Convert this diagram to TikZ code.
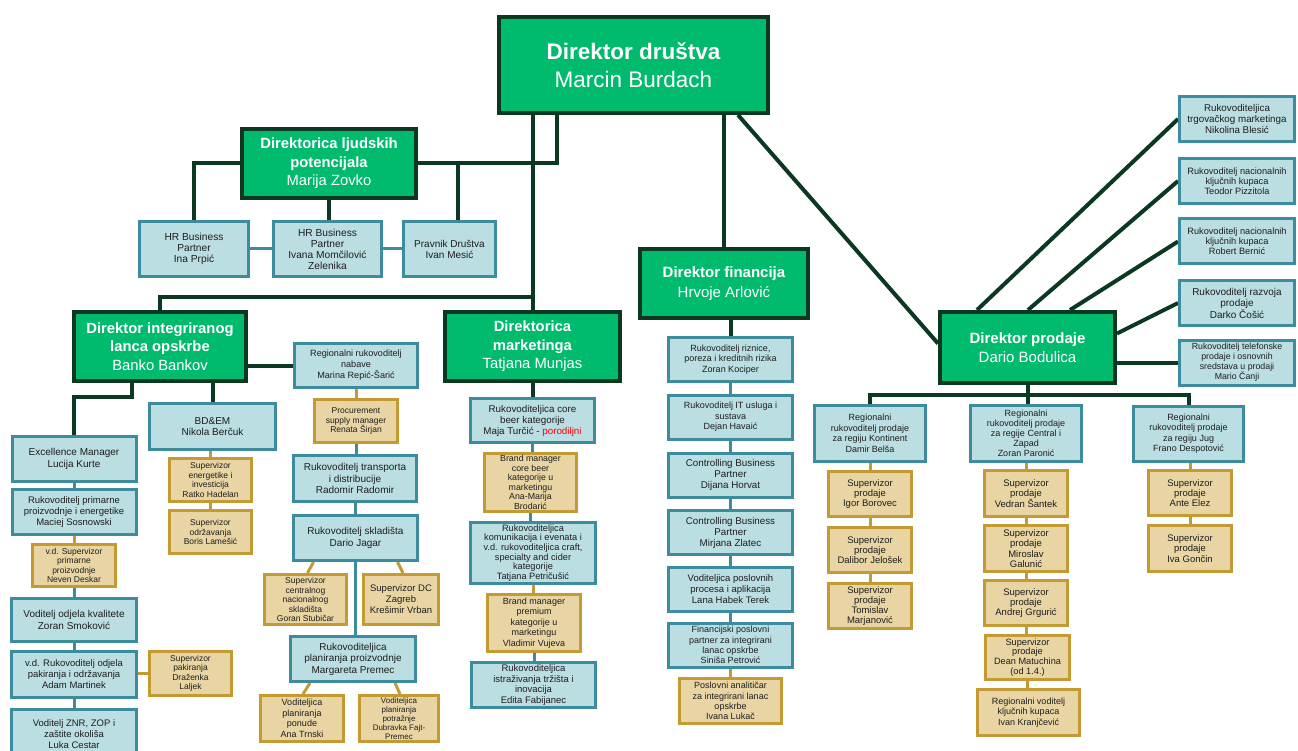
\documentclass[tikz,border=0pt]{standalone}
\usepackage{fontspec}
\setmainfont{Liberation Sans}
\usetikzlibrary{backgrounds}
\definecolor{grn}{RGB}{0,186,110}
\definecolor{dkgrn}{RGB}{12,56,34}
\definecolor{lblue}{RGB}{186,222,226}
\definecolor{tealc}{RGB}{60,140,158}
\definecolor{tanf}{RGB}{232,213,163}
\definecolor{gold}{RGB}{196,155,50}
\definecolor{txt}{RGB}{30,30,30}

\begin{document}
\begin{tikzpicture}[x=1pt, y=-1pt,
  wh/.style 2 args={minimum width=#1, minimum height=#2},
  gbox/.style={draw=dkgrn, line width=4, fill=grn, text=white, align=center, inner sep=1},
  bbox/.style={draw=tealc, line width=3, fill=lblue, text=txt, align=center, inner sep=1, font=\fontsize{9.5}{11}\selectfont},
  tbox/.style={draw=gold, line width=3, fill=tanf, text=txt, align=center, inner sep=1, font=\fontsize{8.5}{9.5}\selectfont},
  sbox/.style={tbox, font=\fontsize{9.5}{10.3}\selectfont},
  main/.style={draw=dkgrn, line width=4},
  blink/.style={draw=tealc, line width=3},
  tlink/.style={draw=gold, line width=3}]
\useasboundingbox (0,0) rectangle (1298,751);

% top level
\node[gbox, wh={269}{96}, font=\fontsize{22.5}{28}\selectfont] (dd) at (633.5,65) {\textbf{Direktor društva}\\Marcin Burdach};
\node[gbox, wh={174}{69}, font=\fontsize{14.8}{18.5}\selectfont] (hr) at (329,163.5) {\textbf{Direktorica ljudskih}\\\textbf{potencijala}\\Marija Zovko};
\node[gbox, wh={172}{69}, font=\fontsize{14.8}{18.5}\selectfont] (lo) at (160,346.5) {\textbf{Direktor integriranog}\\\textbf{lanca opskrbe}\\Banko Bankov};
\node[gbox, wh={175}{69}, font=\fontsize{14.8}{18.5}\selectfont] (mk) at (532.5,346.5) {\textbf{Direktorica}\\\textbf{marketinga}\\Tatjana Munjas};
\node[gbox, wh={168}{69}, font=\fontsize{15}{19.5}\selectfont] (fi) at (724,283.5) {\textbf{Direktor financija}\\Hrvoje Arlović};
\node[gbox, wh={175}{71}, font=\fontsize{15}{19.5}\selectfont] (pr) at (1027.5,347.5) {\textbf{Direktor prodaje}\\Dario Bodulica};

% ljudski potencijali
\node[bbox, wh={109}{55}, font=\fontsize{10.2}{11}\selectfont] (hr1) at (194,249) {HR Business\\Partner\\Ina Prpić};
\node[bbox, wh={108}{55}, font=\fontsize{10.2}{11}\selectfont] (hr2) at (327.5,249) {HR Business\\Partner\\Ivana Momčilović\\Zelenika};
\node[bbox, wh={92}{55}, font=\fontsize{10}{11}\selectfont] (hr3) at (449.5,249) {Pravnik Društva\\Ivan Mesić};

% prodaja
\node[bbox, wh={115}{45}, font=\fontsize{9.8}{11}\selectfont] (pr1) at (1237,119) {Rukovoditeljica\\trgovačkog marketinga\\Nikolina Blesić};
\node[bbox, wh={115}{45}, font=\fontsize{9.2}{10.2}\selectfont] (pr2) at (1237,181) {Rukovoditelj nacionalnih\\ključnih kupaca\\Teodor Pizzitola};
\node[bbox, wh={115}{45}, font=\fontsize{9.2}{10.2}\selectfont] (pr3) at (1237,241.5) {Rukovoditelj nacionalnih\\ključnih kupaca\\Robert Bernić};
\node[bbox, wh={115}{45}, font=\fontsize{10}{11.5}\selectfont] (pr4) at (1237,303) {Rukovoditelj razvoja\\prodaje\\Darko Čošić};
\node[bbox, wh={115}{45}, font=\fontsize{8.8}{10}\selectfont] (pr5) at (1237,362.5) {Rukovoditelj telefonske\\prodaje i osnovnih\\sredstava u prodaji\\Mario Čanji};
\node[bbox, wh={111}{56}, font=\fontsize{9}{10.5}\selectfont] (rk) at (870,433.5) {Regionalni\\rukovoditelj prodaje\\za regiju Kontinent\\Damir Belša};
\node[bbox, wh={111}{56}, font=\fontsize{9}{10}\selectfont] (rc) at (1026,433.5) {Regionalni\\rukovoditelj prodaje\\za regije Central i\\Zapad\\Zoran Paronić};
\node[bbox, wh={110}{55}, font=\fontsize{9}{10.5}\selectfont] (rj) at (1188.5,433.5) {Regionalni\\rukovoditelj prodaje\\za regiju Jug\\Frano Despotović};
\node[sbox, wh={83}{45}] (k1) at (870,494) {Supervizor\\prodaje\\Igor Borovec};
\node[sbox, wh={83}{45}] (k2) at (870,550) {Supervizor\\prodaje\\Dalibor Jelošek};
\node[sbox, wh={83}{45}] (k3) at (870,606) {Supervizor\\prodaje\\Tomislav\\Marjanović};
\node[sbox, wh={83}{46}] (c1) at (1026,493.5) {Supervizor\\prodaje\\Vedran Šantek};
\node[sbox, wh={83}{46}] (c2) at (1026,548.5) {Supervizor\\prodaje\\Miroslav\\Galunić};
\node[sbox, wh={83}{45}] (c3) at (1026,603) {Supervizor\\prodaje\\Andrej Grgurić};
\node[sbox, wh={84}{44}, font=\fontsize{9.2}{9.8}\selectfont] (c4) at (1027.5,657.5) {Supervizor\\prodaje\\Dean Matuchina\\(od 1.4.)};
\node[tbox, wh={102}{46}, font=\fontsize{9}{10.5}\selectfont] (c5) at (1028.5,712.5) {Regionalni voditelj\\ključnih kupaca\\Ivan Kranjčević};
\node[sbox, wh={83}{45}] (j1) at (1190,493) {Supervizor\\prodaje\\Ante Elez};
\node[sbox, wh={83}{46}] (j2) at (1190,548.5) {Supervizor\\prodaje\\Iva Gončin};

% financije
\node[bbox, wh={124}{44}, font=\fontsize{9}{10.5}\selectfont] (f1) at (730.5,359.5) {Rukovoditelj riznice,\\poreza i kreditnih rizika\\Zoran Kociper};
\node[bbox, wh={124}{44}, font=\fontsize{9}{10.5}\selectfont] (f2) at (730.5,417) {Rukovoditelj IT usluga i\\sustava\\Dejan Havaić};
\node[bbox, wh={124}{44}, font=\fontsize{9.8}{11}\selectfont] (f3) at (730.5,475) {Controlling Business\\Partner\\Dijana Horvat};
\node[bbox, wh={124}{44}, font=\fontsize{9.8}{11}\selectfont] (f4) at (730.5,532.5) {Controlling Business\\Partner\\Mirjana Zlatec};
\node[bbox, wh={124}{44}] (f5) at (730.5,589.5) {Voditeljica poslovnih\\procesa i aplikacija\\Lana Habek Terek};
\node[bbox, wh={124}{44}, font=\fontsize{9}{10.2}\selectfont] (f6) at (730.5,645) {Financijski poslovni\\partner za integrirani\\lanac opskrbe\\Siniša Petrović};
\node[tbox, wh={102}{45}, font=\fontsize{9}{10.2}\selectfont] (f7) at (730.5,701) {Poslovni analitičar\\za integrirani lanac\\opskrbe\\Ivana Lukač};

% marketing
\node[bbox, wh={124}{44}, font=\fontsize{9.8}{11}\selectfont] (m1) at (532.5,420.5) {Rukovoditeljica core\\beer kategorije\\Maja Turčić - \textcolor{red}{porodiljni}};
\node[tbox, wh={92}{58}, font=\fontsize{8.8}{9.5}\selectfont] (m2) at (530.5,482.5) {Brand manager\\core beer\\kategorije u\\marketingu\\Ana-Marija\\Brodarić};
\node[bbox, wh={125}{61}, font=\fontsize{9.2}{9.6}\selectfont] (m3) at (533,553) {Rukovoditeljica\\komunikacija i evenata i\\v.d. rukovoditeljica craft,\\specialty and cider\\kategorije\\Tatjana Petričušić};
\node[tbox, wh={93}{57}, font=\fontsize{9}{10.5}\selectfont] (m4) at (534,623) {Brand manager\\premium\\kategorije u\\marketingu\\Vladimir Vujeva};
\node[bbox, wh={124}{45}, font=\fontsize{9.5}{10.8}\selectfont] (m5) at (533.5,685) {Rukovoditeljica\\istraživanja tržišta i\\inovacija\\Edita Fabijanec};

% integrirani lanac opskrbe
\node[bbox, wh={124}{45}, font=\fontsize{10}{11.5}\selectfont] (l1) at (74,459) {Excellence Manager\\Lucija Kurte};
\node[bbox, wh={124}{45}] (l2) at (74,512) {Rukovoditelj primarne\\proizvodnje i energetike\\Maciej Sosnowski};
\node[tbox, wh={83}{42}] (l3) at (74,565.5) {v.d. Supervizor\\primarne\\proizvodnje\\Neven Deskar};
\node[bbox, wh={125}{43}, font=\fontsize{10}{11.5}\selectfont] (l4) at (74,620) {Voditelj odjela kvalitete\\Zoran Smoković};
\node[bbox, wh={125}{46}] (l5) at (74,674.5) {v.d. Rukovoditelj odjela\\pakiranja i održavanja\\Adam Martinek};
\node[tbox, wh={82}{44}] (l5s) at (190.5,673.5) {Supervizor\\pakiranja\\Draženka\\Laljek};
\node[bbox, wh={125}{49}] (l6) at (74,734) {Voditelj ZNR, ZOP i\\zaštite okoliša\\Luka Cestar};
\node[bbox, wh={126}{46}, font=\fontsize{10}{11.5}\selectfont] (b1) at (212.5,426.5) {BD\&EM\\Nikola Berčuk};
\node[tbox, wh={82}{43}] (b2) at (210.5,480) {Supervizor\\energetike i\\investicija\\Ratko Hadelan};
\node[tbox, wh={82}{43}] (b3) at (210.5,532) {Supervizor\\održavanja\\Boris Lamešić};
\node[bbox, wh={123}{44}, font=\fontsize{9.1}{11}\selectfont] (n1) at (356,365.5) {Regionalni rukovoditelj\\nabave\\Marina Repić-Šarić};
\node[tbox, wh={83}{43}] (n2) at (356,421) {Procurement\\supply manager\\Renata Širjan};
\node[bbox, wh={123}{46}, font=\fontsize{10}{11.5}\selectfont] (n3) at (355,478.5) {Rukovoditelj transporta\\i distribucije\\Radomir Radomir};
\node[bbox, wh={124}{45}, font=\fontsize{10}{11.5}\selectfont] (n4) at (355.5,538) {Rukovoditelj skladišta\\Dario Jagar};
\node[tbox, wh={82}{50}] (n5) at (305.5,599.5) {Supervizor\\centralnog\\nacionalnog\\skladišta\\Goran Stubičar};
\node[tbox, wh={75}{50}, font=\fontsize{9.5}{11}\selectfont] (n6) at (401,599.5) {Supervizor DC\\Zagreb\\Krešimir Vrban};
\node[bbox, wh={125}{45}, font=\fontsize{10}{11.5}\selectfont] (n7) at (353,659) {Rukovoditeljica\\planiranja proizvodnje\\Margareta Premec};
\node[tbox, wh={83}{46}, font=\fontsize{9}{10.5}\selectfont] (n8) at (302,718.5) {Voditeljica\\planiranja\\ponude\\Ana Trnski};
\node[tbox, wh={79}{46}, font=\fontsize{8}{9}\selectfont] (n9) at (399,718.5) {Voditeljica\\planiranja\\potražnje\\Dubravka Fajt-\\Premec};

\begin{scope}[on background layer]
\draw[main] (hr.east) -| ([xshift=60]dd.south west);
\draw[main] (hr.west) -| (hr1.north);
\draw[main] (hr.south) -- (hr.south |- hr2.north);
\draw[main] (hr.east) -| ([xshift=8]hr3.north);
\draw[main] (dd.south -| mk.north) -- (mk.north);
\draw[main] (lo.north) |- ([yshift=13]mk.north);
\draw[main] (dd.south -| fi.north) -- (fi.north);
\draw[main] ([xshift=-32]dd.south east) -- ([yshift=4]pr.west);
\draw[main] (pr1.west) -- ([xshift=39]pr.north west);
\draw[main] (pr2.west) -- ([xshift=90]pr.north west);
\draw[main] (pr3.west) -- ([xshift=132]pr.north west);
\draw[main] (pr4.west) -- ([yshift=14]pr.east);
\draw[main] (pr5.west) -- (pr5.west -| pr.east);
\draw[main] (pr.south) -- (pr.south |- rc.north);
\draw[main] (rk.north) -- ++(0,-9) -| (rj.north);
\draw[main] ([xshift=60]lo.south west) -- ++(0,14) -| (l1.north);
\draw[main] (lo.south -| b1.north) -- (b1.north);
\draw[main] (n1.west) -- (n1.west -| lo.east);
\draw[main] (mk.south) -- (mk.south |- m1.north);
\draw[main] (f1.north |- fi.south) -- (f1.north);

\draw[blink] (hr1) -- (hr2) -- (hr3);
\draw[blink] (f1) -- (f2) -- (f3) -- (f4) -- (f5) -- (f6);
\draw[tlink] (f6) -- (f7);
\draw[tlink] (rk) -- (k1) -- (k2) -- (k3);
\draw[tlink] (rc) -- (c1) -- (c2) -- (c3);
\draw[tlink] (c3.south) -- (c3.south |- c4.north);
\draw[tlink] (c4.south) -- (c4.south |- c5.north);
\draw[tlink] (rj.south -| j1.north) -- (j1.north);
\draw[tlink] (j1) -- (j2);
\draw[blink] (m1.south) -- (m1.south |- m2.north);
\draw[blink] (m2.south) -- (m2.south |- m3.north);
\draw[tlink] (m3.south) -- (m3.south |- m4.north);
\draw[blink] (m4.south) -- (m4.south |- m5.north);
\draw[blink] (l1) -- (l2);
\draw[tlink] (l2) -- (l3);
\draw[blink] (l3) -- (l4);
\draw[blink] (l4) -- (l5);
\draw[blink] (l5) -- (l6);
\draw[tlink] (l5.east |- l5s.west) -- (l5s.west);
\draw[tlink] (b1.south -| b2.north) -- (b2.north);
\draw[tlink] (b2) -- (b3);
\draw[tlink] (n1) -- (n2);
\draw[blink] (n2.south) -- (n2.south |- n3.north);
\draw[blink] (n3.south) -- (n3.south |- n4.north);
\draw[blink] (n4.south) -- (n4.south |- n7.north);
\draw[tlink] ([xshift=-42]n4.south) -- ([xshift=2]n5.north);
\draw[tlink] ([xshift=42]n4.south) -- ([xshift=2]n6.north);
\draw[tlink] ([xshift=-43]n7.south) -- ([xshift=1]n8.north);
\draw[tlink] ([xshift=42]n7.south) -- ([xshift=1]n9.north);
\end{scope}
\end{tikzpicture}
\end{document}
